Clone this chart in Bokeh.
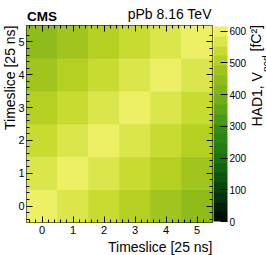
import numpy as np
from bokeh.plotting import figure
from bokeh.models import (ColumnDataSource, LinearColorMapper, ColorBar, FixedTicker,
                          LinearAxis, Range1d, Title)
from bokeh.embed import file_html
from bokeh.resources import INLINE

# ---------------- data ----------------
timeslices_x = [0, 1, 2, 3, 4, 5]
timeslices_y = [0, 1, 2, 3, 4, 5]
# V_ped [fC^2], one list per y timeslice (columns = x timeslice 0..5)
v_ts0 = [603, 572, 541, 510, 479, 448]
v_ts1 = [570, 605, 574, 543, 512, 481]
v_ts2 = [539, 573, 606, 575, 544, 511]
v_ts3 = [508, 542, 574, 607, 576, 541]
v_ts4 = [478, 510, 543, 575, 607, 574]
v_ts5 = [447, 479, 512, 544, 576, 604]
rows = [v_ts0, v_ts1, v_ts2, v_ts3, v_ts4, v_ts5]
z_low, z_high = 0, 615
cbar_ticks = [0, 100, 200, 300, 400, 500, 600]
n_levels = 20
x_title = "Timeslice [25 ns]"
y_title = "Timeslice [25 ns]"
energy_text = "pPb 8.16 TeV"
z_title_parts = ["HAD1, V", "ped", "[fC\u00b2]"]

# ROOT kAvocado palette stops
pal_stops = [0.0, 0.125, 0.25, 0.375, 0.5, 0.625, 0.75, 0.875, 1.0]
pal_red = [0, 4, 12, 30, 52, 101, 142, 190, 237]
pal_green = [0, 40, 86, 121, 140, 172, 187, 213, 240]
pal_blue = [0, 9, 14, 18, 21, 23, 27, 35, 101]
palette = []
for i in range(n_levels):
    f = int((i + 0.99) * 255 / n_levels) / 254.0
    r = int(round(np.interp(f, pal_stops, pal_red)))
    g = int(round(np.interp(f, pal_stops, pal_green)))
    b = int(round(np.interp(f, pal_stops, pal_blue)))
    palette.append("#%02x%02x%02x" % (r, g, b))

xs, ys, vs = [], [], []
for yi, row in zip(timeslices_y, rows):
    for xi, v in zip(timeslices_x, row):
        xs.append(xi); ys.append(yi); vs.append(v)
src = ColumnDataSource(dict(x=xs, y=ys, v=vs))

mapper = LinearColorMapper(palette=palette, low=z_low, high=z_high)

# frame box in window pixels
FL, FT, FW, FH = 26, 25, 186, 197
X0, X1, Y0, Y1 = -0.5, 5.5, -0.5, 5.5
p = figure(frame_width=FW, frame_height=FH,
           x_range=Range1d(X0, X1), y_range=Range1d(Y0, Y1),
           output_backend="svg", toolbar_location=None,
           x_axis_type=None, y_axis_type=None,
           min_border_left=FL, min_border_top=FT, min_border_bottom=30, min_border_right=54)
p.grid.visible = False
p.outline_line_color = "black"
p.outline_line_width = 1
p.background_fill_color = "white"
p.border_fill_color = "white"

p.rect(x="x", y="y", width=1, height=1, source=src,
       fill_color={"field": "v", "transform": mapper},
       line_color={"field": "v", "transform": mapper}, line_width=0.6)

FONT = "Liberation Sans"
major = [0, 1, 2, 3, 4, 5]
minor = [round(m / 5.0 - 0.4, 1) for m in range(29) if m % 5 != 2]

def make_axis(show_labels):
    ax = LinearAxis(ticker=FixedTicker(ticks=major, minor_ticks=minor))
    ax.axis_line_color = None
    ax.major_tick_in = 6
    ax.major_tick_out = 0
    ax.minor_tick_in = 3
    ax.minor_tick_out = 0
    ax.major_tick_line_color = "black"
    ax.minor_tick_line_color = "black"
    ax.major_label_text_font = FONT
    ax.major_label_text_color = "black"
    ax.axis_label_standoff = 0
    ax.axis_label_text_font = FONT
    ax.axis_label_text_font_style = "normal"
    ax.axis_label_text_color = "black"
    ax.axis_label_text_font_size = "14px"
    if show_labels:
        ax.major_label_text_font_size = "11px"
    else:
        ax.major_label_text_font_size = "1px"
        ax.major_label_text_alpha = 0
        ax.major_label_standoff = 0
    return ax

ax_b = make_axis(True)
ax_b.major_label_standoff = 3
ax_l = make_axis(True)
ax_l.major_label_standoff = 2

# top axis: ticks plus the "CMS" / "pPb 8.16 TeV" header texts
ax_t = make_axis(True)
ax_t.major_label_overrides = {0: "CMS", 1: "", 2: "", 3: "", 4: "", 5: ""}
ax_t.major_label_text_font_size = "13.5px"
ax_t.major_label_text_font_style = "bold"
ax_t.major_label_standoff = 2
# label is centred on the frame end, so pad it with no-break spaces of equal width
ax_t.axis_label = energy_text + "\u00a0" * 22
ax_t.axis_label_align = "end"
ax_t.axis_label_standoff = -16

ax_r = make_axis(False)
p.add_layout(ax_b, "below")
p.add_layout(ax_l, "left")
p.add_layout(ax_t, "above")
p.add_layout(ax_r, "right")

def side_title(text, align, valign, standoff):
    return Title(text=text, align=align, vertical_align=valign, standoff=standoff,
                 text_font=FONT, text_font_size="14px", text_font_style="normal",
                 text_color="black")
p.add_layout(side_title(x_title, "right", "top", 4), "below")
p.add_layout(side_title(y_title, "right", "bottom", -5), "left")

cb = ColorBar(color_mapper=mapper, ticker=FixedTicker(ticks=cbar_ticks), width=14,
              padding=1, margin=0, label_standoff=2,
              major_tick_in=7, major_tick_out=0, minor_tick_in=0, minor_tick_out=0,
              major_tick_line_color="black",
              major_label_text_font=FONT, major_label_text_font_size="10px",
              major_label_text_color="black",
              border_line_color=None, bar_line_color=None,
              background_fill_alpha=0)
p.add_layout(cb, "right")

# colour-bar title: vertical text pieces (main text + subscript) on two
# tick-less axes stacked to the right of the colour bar; each piece starts at its tick
W = {"H": .722, "A": .667, "D": .722, "1": .556, ",": .278, " ": .278, "V": .667,
     "p": .556, "e": .556, "d": .556, "[": .278, "f": .278, "C": .722, "\u00b2": .333, "]": .278}
def text_w(t, size):
    return sum(W[c] for c in t) * size
def ydata(sy):
    return Y1 - (sy - FT) * (Y1 - Y0) / FH
MAIN, SUB = 14, 10
sy = 126.0
s1 = sy; sy -= text_w(z_title_parts[0], MAIN)
s2 = sy; sy -= text_w(z_title_parts[1], SUB) + 0.278 * MAIN
s3 = sy
t_main = [ydata(s1), ydata(s3)]
t_sub = [ydata(s2)]

def title_axis(ticks, texts, size, standoff):
    ax = LinearAxis(ticker=FixedTicker(ticks=ticks, minor_ticks=[]))
    ax.major_label_overrides = {t: s for t, s in zip(ticks, texts)}
    ax.major_label_orientation = np.pi / 2
    ax.major_label_text_font = FONT
    ax.major_label_text_font_size = "%gpx" % size
    ax.major_label_text_color = "black"
    ax.major_label_standoff = standoff
    ax.axis_label_standoff = 0
    ax.axis_line_color = None
    ax.major_tick_line_color = None
    ax.minor_tick_line_color = None
    ax.major_tick_in = 0
    ax.major_tick_out = 0
    return ax

za1 = title_axis(t_main, [z_title_parts[0], z_title_parts[2]], MAIN, 6)
za2 = title_axis(t_sub, [z_title_parts[1]], SUB, -9)
p.add_layout(za1, "right")
p.add_layout(za2, "right")

open("out.html", "w").write(file_html(p, INLINE))
